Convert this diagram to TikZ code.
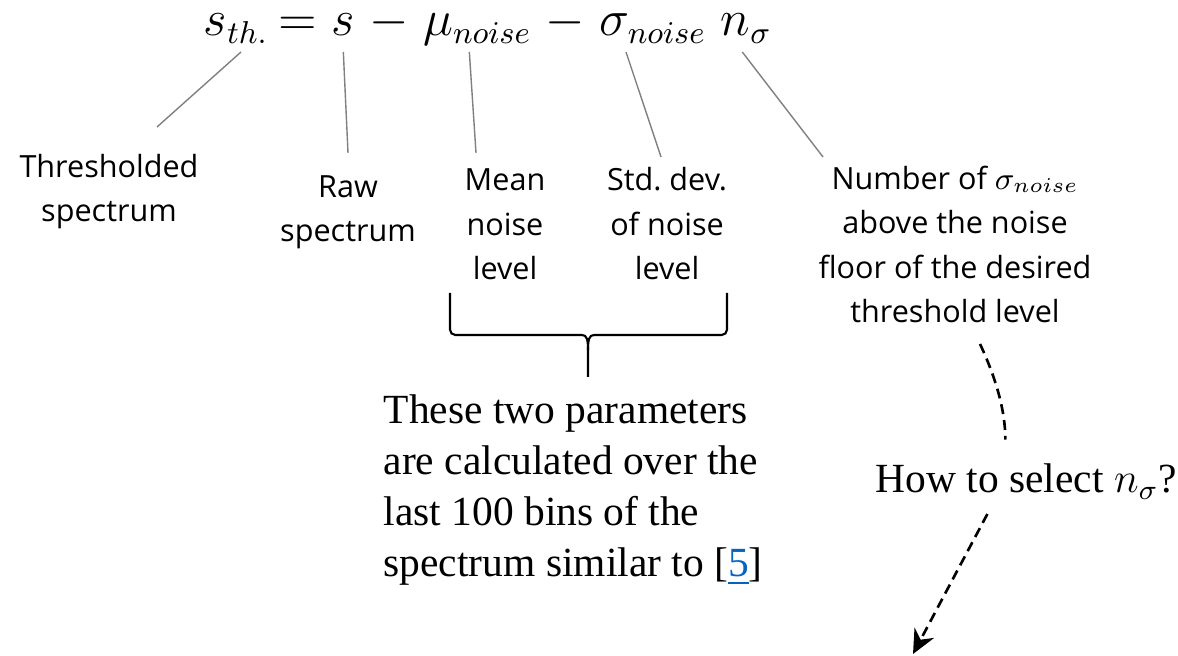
\documentclass[tikz,border=0pt]{standalone}
\usepackage{amsmath}
\usepackage{fontspec}
\setmainfont{Liberation Serif}
\setsansfont{Open Sans}
\usetikzlibrary{positioning,arrows.meta}
\definecolor{linkblue}{RGB}{5,99,193}
\tikzset{
        term/.style={inner sep=0pt, font=\fontsize{13.3}{16}\selectfont}, % pieces of the formula
        part/.style={align=center, inner sep=0pt, anchor=base, font=\sffamily\fontsize{8.7}{12.7}\selectfont},
        remark/.style={align=left, inner sep=0pt, anchor=base west, font=\fontsize{11.8}{14.6}\selectfont},
        leader/.style={draw=black!50, line width=0.4pt}, % grey lines from formula to labels
        hint/.style={draw, line width=0.75pt, dash pattern=on 1mm off 0.6mm},
    }
\begin{document}
\begin{tikzpicture}[x=0.1mm, y=-0.1mm]
    \useasboundingbox (0,0) rectangle (1178,656);
    % formula
    \node[term, anchor=base west] (sth) at (203,36) {$s_{th.}$};
    \node[term, base right=0.9mm of sth] (eq) {$=$};
    \node[term, base right=1.3mm of eq] (rs) {$s$};
    \node[term, base right=1.3mm of rs] (m1) {$-$};
    \node[term, base right=1.3mm of m1] (mu) {$\mu_{noise}$};
    \node[term, base right=1.3mm of mu] (m2) {$-$};
    \node[term, base right=1.3mm of m2] (sig) {$\sigma_{noise}$};
    \node[term, base right=1.3mm of sig] (ns) {$n_\sigma$};
    % labels (base = last line)
    \node[part] (thr) at (109,222) {Thresholded\\spectrum};
    \node[part] (raw) at (348,242) {Raw\\spectrum};
    \node[part] (mean) at (505,280) {Mean\\noise\\level};
    \node[part] (std) at (667,280) {Std.\ dev.\\of noise\\level};
    \node[part] (num) at (955,323) {Number of $\sigma_{noise}$\\above the noise\\floor of the desired\\threshold level};
    \draw[leader] ([xshift=0.5mm, yshift=-1.6mm]sth.base) -- ([xshift=4.8mm, yshift=9.5mm]thr.base);
    \draw[leader] ([yshift=-1.6mm]rs.base) -- ([yshift=8.9mm]raw.base);
    \draw[leader] ([xshift=-0.8mm, yshift=-1.6mm]mu.base) -- ([xshift=-2.9mm, yshift=12.7mm]mean.base);
    \draw[leader] ([xshift=-2.7mm, yshift=-1.6mm]sig.base) -- ([xshift=-0.6mm, yshift=12.3mm]std.base);
    \draw[leader] ([xshift=-0.4mm, yshift=-1.6mm]ns.base) -- ([xshift=-13.2mm, yshift=16.6mm]num.base);
    % brace under the two noise parameters
    \draw[line width=0.6pt, rounded corners=1.5pt] (450,293) -- (450,335) -- (582,335);
    \draw[line width=0.6pt, rounded corners=1.5pt] (727,293) -- (727,335) -- (594,335);
    \draw[line width=0.6pt] (582,335) .. controls (587,335) and (588,340) .. (588,350) -- (588,377);
    \draw[line width=0.6pt] (594,335) .. controls (589,335) and (588,340) .. (588,350);
    \node[remark] (calc) at (383,577) {These two parameters\\are calculated over the\\last 100 bins of the\\spectrum similar to [{\color{linkblue}\underline{5}}]};
    % selecting n sigma
    \node[remark] (how) at (875,493) {How to select $n_\sigma$?};
    \coordinate (tip) at (913,654);
    \draw[hint] ([xshift=2.5mm, yshift=-2mm]num.south) .. controls +(15,32) and +(0,-30) .. ([xshift=-2.1mm, yshift=2.4mm]how.north);
    \draw[hint, -{Stealth[length=2.4mm, width=2.2mm]}] ([xshift=-3.9mm, yshift=-1.4mm]how.south) -- (tip);
\end{tikzpicture}
\end{document}
